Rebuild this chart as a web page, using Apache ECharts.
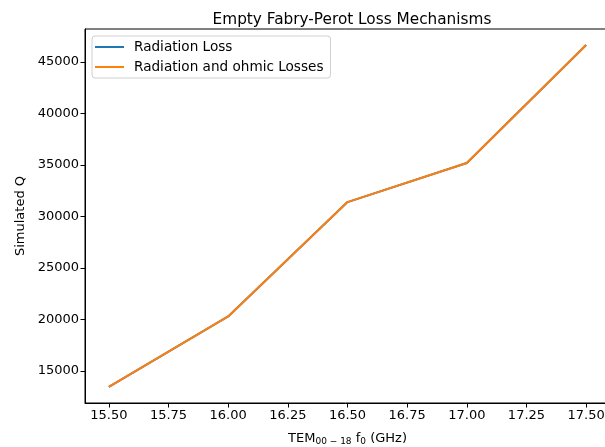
<!DOCTYPE html>
<html>
<head>
<meta charset="utf-8">
<script src="https://cdn.jsdelivr.net/npm/echarts@6/dist/echarts.min.js"></script>
<style>html,body{margin:0;padding:0;background:#fff}#c{width:605px;height:447px}</style>
</head>
<body>
<div id="c"></div>
<script>
const frequencies = [15.5, 16.0, 16.5, 17.0, 17.5];
const radiationLoss = [13440, 20280, 31380, 35180, 46620];
const radiationOhmicLoss = [13440, 20280, 31380, 35180, 46620];
const xTicks = [15.5, 15.75, 16.0, 16.25, 16.5, 16.75, 17.0, 17.25, 17.5];
const yTicks = [15000, 20000, 25000, 30000, 35000, 40000, 45000];
const seriesNames = ['Radiation Loss', 'Radiation and ohmic Losses'];

const FONT = 'DejaVu Sans';
const chart = echarts.init(document.getElementById('c'), null, {renderer: 'canvas'});
const toPairs = (xs, ys) => xs.map((x, i) => [x, ys[i]]);

chart.setOption({
  animation: false,
  backgroundColor: '#fff',
  title: {
    text: 'Empty Fabry-Perot Loss Mechanisms',
    left: 347, top: 8, textAlign: 'center',
    textStyle: {fontFamily: FONT, fontSize: 15.3, fontWeight: 'normal', color: '#000'}
  },
  grid: {
    left: 85, right: -5, top: 29, bottom: 44,
    containLabel: false, outerBoundsMode: 'none',
    show: true, borderColor: '#000', borderWidth: 1, backgroundColor: 'transparent'
  },
  legend: {
    orient: 'vertical', left: 92, top: 36,
    padding: [4, 7, 4, 3],
    itemWidth: 29, itemHeight: 2, itemGap: 6,
    icon: 'rect',
    backgroundColor: 'rgba(255,255,255,0.8)',
    borderColor: '#d0d0d0', borderWidth: 1, borderRadius: 3,
    textStyle: {fontFamily: FONT, fontSize: 13.6, color: '#000', padding: [0, 0, 0, 5]},
    data: seriesNames
  },
  xAxis: {
    type: 'value', min: 15.4, max: 17.6,
    name: '{n|TEM}{s|00 − 18}{n| f}{s|0}{n| (GHz)}',
    nameLocation: 'middle', nameGap: 28,
    nameTextStyle: {
      rich: {
        n: {fontFamily: FONT, fontSize: 13, color: '#000'},
        s: {fontFamily: FONT, fontSize: 9, color: '#000', verticalAlign: 'bottom', padding: [6, 0, 0, 0]}
      }
    },
    axisLine: {show: true, onZero: false, lineStyle: {color: '#000', width: 1}},
    axisTick: {show: true, customValues: xTicks, length: 4.5, lineStyle: {color: '#000'}},
    axisLabel: {
      customValues: xTicks, fontFamily: FONT, fontSize: 13, color: '#000', margin: 6,
      formatter: v => v.toFixed(2)
    },
    splitLine: {show: false}
  },
  yAxis: {
    type: 'value', min: 11880, max: 48180,
    name: 'Simulated Q', nameLocation: 'middle', nameGap: 56, nameRotate: 90,
    nameTextStyle: {fontFamily: FONT, fontSize: 13, color: '#000'},
    axisLine: {show: true, onZero: false, lineStyle: {color: '#000', width: 1}},
    axisTick: {show: true, customValues: yTicks, length: 4.5, lineStyle: {color: '#000'}},
    axisLabel: {
      customValues: yTicks, fontFamily: FONT, fontSize: 13, color: '#000', margin: 6,
      formatter: v => String(Math.round(v))
    },
    splitLine: {show: false}
  },
  series: [
    {
      name: seriesNames[0], type: 'line', data: toPairs(frequencies, radiationLoss),
      symbol: 'none', color: '#1f77b4', lineStyle: {width: 2, color: '#1f77b4'}
    },
    {
      name: seriesNames[1], type: 'line', data: toPairs(frequencies, radiationOhmicLoss),
      symbol: 'none', color: '#ff7f0e', lineStyle: {width: 2, color: '#ff7f0e'}
    }
  ]
});
</script>
</body>
</html>
